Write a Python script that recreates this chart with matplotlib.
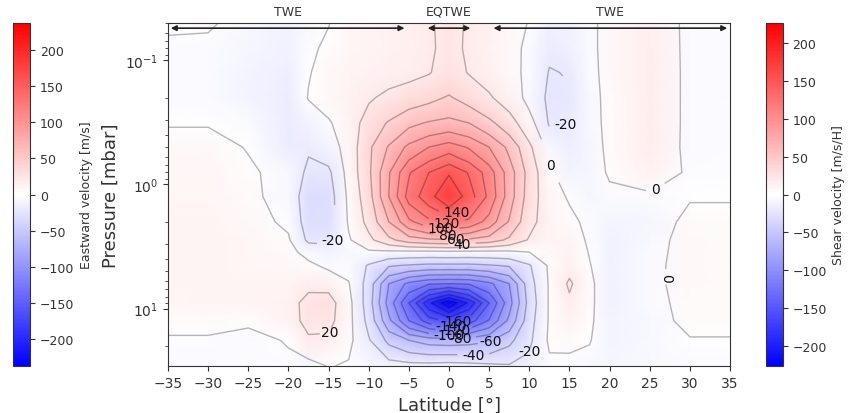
import numpy as np
import matplotlib.pyplot as plt
import matplotlib.colors as mcolors

# =====================
# Data
# =====================
lat = [-35, -30, -25, -20, -17.5, -15, -12.5, -10, -7.5, -5, -2.5, 0,
       2.5, 5, 7.5, 10, 12.5, 15, 17.5, 20, 25, 30, 35]
pres = [0.05, 0.08, 0.125, 0.2, 0.32, 0.5, 0.8, 1.25, 2.0, 2.8, 3.5, 4.5,
        6.3, 9.0, 12.5, 18.0, 29.0]

# eastward velocity [m/s], one row per pressure level (top -> bottom)
u_wind = [
    [3, 2, -6, -12, -6, -0.5, 8, 10, 12, 14, 18, 25, 18, 14, 8, -1, -14, -12, -4, 6, 14, -5, -3],
    [-4, -4, -8, -13, -3, 3, 9, 11, 13, 14, 18, 24, 18, 13, 6, -4, -17, -14, -4, 6, 15, -5, -3],
    [-4, -4, -10, -15, -1, 6, 10, 12, 14, 15, 19, 27, 19, 14, 7, -5, -21, -19, -5, 6, 16, -5, -3],
    [-4, -4, -11, -17, 1, 7, 12, 18, 24, 30, 35, 42, 32, 22, 12, -6, -24, -22, -6, 5, 16, -5, -3],
    [-1, -1, -4, -18, -12, -2, 10, 28, 42, 55, 62, 66, 60, 45, 28, 8, -22, -20, -7, 5, 16, -5, -3],
    [6, 6, -1, -18, -18, -10, 8, 36, 62, 85, 100, 110, 98, 80, 55, 24, -6, -15, -8, 4, 15, -5, -3],
    [8, 8, 3, -7, -24, -24, 7, 36, 78, 118, 140, 158, 138, 110, 70, 32, 4, -10, -8, 2, 12, -3, -3],
    [9, 9, 4, -7, -32, -30, 4, 32, 80, 128, 152, 180, 150, 115, 70, 30, 8, -2, -8, -4, -4, -1, -1],
    [10, 10, 6, -3, -30, -30, 2, 26, 60, 95, 115, 125, 115, 92, 58, 26, 10, 5, -5, -10, -8, 4, 4],
    [10, 11, 8, 2, -24, -24, -2, 15, 35, 50, 56, 58, 56, 50, 36, 18, 10, 10, -3, -12, -6, 6, 5],
    [10, 11, 8, 5, -6, -12, -6, -3, -4, -5, -5, -4, -5, -5, -4, 0, 6, 12, -1, -12, -5, 6, 5],
    [10, 11, 9, 8, 4, -4, -5, -22, -38, -42, -45, -45, -45, -42, -38, -22, 3, 14, 1, -12, -4, 6, 5],
    [10, 11, 10, 10, 15, 14, 1, -28, -80, -105, -118, -120, -118, -105, -80, -28, 2, 23, 4, -12, -4, 6, 5],
    [9, 10, 10, 12, 27, 28, 6, -30, -88, -140, -195, -236, -195, -140, -88, -32, 2, 16, 4, -12, -5, 5, 5],
    [5, 5, 2, 12, 26, 26, 6, -26, -75, -120, -150, -165, -150, -118, -75, -28, 2, 12, 3, -11, -6, 4, 4],
    [-2, -2, -4, 1, 17, 16, 5, -18, -45, -60, -68, -70, -68, -62, -45, -24, 3, 4, 1, -10, -6, -1, -1],
    [-4, -4, -5, -3, -8, 1, -2, -6, -10, -12, -12, -10, -12, -15, -18, -14, -4, -5, -6, -8, -6, -4, -4],
]

u_lim = 238      # colour range of the eastward velocity
shear_lim = 226  # colour range of the shear velocity bar

# regimes marked above the map
regime_names = ['TWE', 'EQTWE', 'TWE']
regime_spans = [(-35, -5.2), (-3, 3), (5.2, 35)]
regime_label_lat = [-20, 0, 20]

# contour labels (level, lat, pressure)
labels = [(-20, -14.0, 3.1), (20, -14.0, 15.5), (-20, 14.5, 0.32),
          (0, 12.6, 0.66), (0, 25.7, 1.1), (0, 27.6, 5.6),
          (140, 1.0, 1.8), (120, -0.3, 2.1), (100, -1.0, 2.35), (80, -0.2, 2.5),
          (60, 0.8, 2.65), (40, 1.6, 3.0),
          (-160, 1.4, 13), (-140, 0.6, 14.5), (-120, 1.0, 15.5), (-100, -0.5, 18),
          (-80, 1.5, 17.5), (-60, 6, 18.5), (-40, 2.6, 22), (-20, 8.5, 22)]

# =========
# Figure
# =========
grey = '#333333'
plt.rcParams.update({'text.color': grey, 'axes.labelcolor': grey,
                     'xtick.color': grey, 'ytick.color': grey,
                     'axes.edgecolor': grey, 'font.size': 10})

fig = plt.figure(figsize=(8.62, 4.14), dpi=100)
ax = fig.add_axes([0.1949, 0.1135, 0.652, 0.8285])
cax_l = fig.add_axes([0.0151, 0.1135, 0.0197, 0.8285])
cax_r = fig.add_axes([0.8883, 0.1135, 0.0197, 0.8285])

LAT, P = np.meshgrid(lat, pres)
U = np.array(u_wind, dtype=float)

mesh = ax.pcolormesh(LAT, P, U, shading='gouraud', cmap='bwr',
                     vmin=-u_lim, vmax=u_lim)

# one contour set per level, so each one can get its own labels
levels = np.arange(-220, 221, 20)
for lev in levels:
    cs = ax.contour(LAT, P, U, levels=[lev], colors=[(0, 0, 0, 0.28)],
                    linewidths=1.0, linestyles='solid')
    pos = [(x, y) for l, x, y in labels if l == lev]
    if pos and len(cs.allsegs[0]) > 0:
        txts = ax.clabel(cs, manual=pos, inline=True, fmt='%d',
                         fontsize=10, colors='#111111')
        for t in txts:
            x, y = t.get_position()
            if not (lev == 0 and x > 26.5):
                t.set_rotation(0)

ax.set_yscale('log')
ax.set_ylim(29.0, 0.05)
ax.set_xlim(-35, 35)
ax.set_xticks(np.arange(-35, 36, 5))
ax.set_xlabel('Latitude [°]', fontsize=13)
ax.set_ylabel('Pressure [mbar]', fontsize=13)
ax.tick_params(labelsize=10)

# regime arrows
for (x0, x1), name, xl in zip(regime_spans, regime_names, regime_label_lat):
    ax.annotate('', xy=(x1, 0.985), xytext=(x0, 0.985),
                xycoords=('data', 'axes fraction'),
                arrowprops=dict(arrowstyle='<|-|>', color='#222222', lw=1.2,
                                mutation_scale=8))
    ax.text(xl, 1.035, name, transform=ax.get_xaxis_transform(),
            ha='center', va='center', fontsize=9)

# colour bars
cb1 = fig.colorbar(mesh, cax=cax_l)
cb1.set_ticks(np.arange(-200, 201, 50))
cb1.set_label('Eastward velocity [m/s]', fontsize=9)
cb1.ax.tick_params(labelsize=9)

sm = plt.cm.ScalarMappable(norm=mcolors.Normalize(-shear_lim, shear_lim), cmap='bwr')
cb2 = fig.colorbar(sm, cax=cax_r)
cb2.set_ticks(np.arange(-200, 201, 50))
cb2.set_label('Shear velocity [m/s/H]', fontsize=9)
cb2.ax.tick_params(labelsize=9)

fig.savefig('out.png', dpi=100)
